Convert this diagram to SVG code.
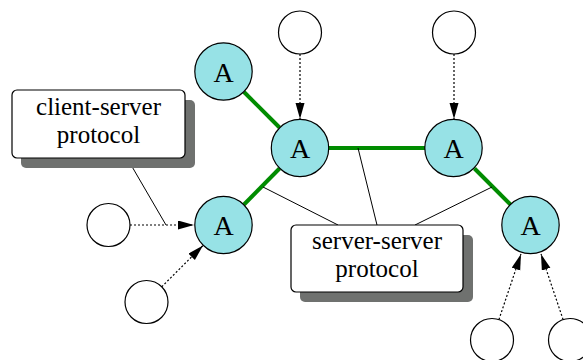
<svg xmlns="http://www.w3.org/2000/svg" width="583" height="360" viewBox="0 0 583 360">
<style>
.a{fill:#97e2e6;stroke:#000;stroke-width:1.2}
.w{fill:#fff;stroke:#000;stroke-width:1.2}
.box{fill:#fff;stroke:#000;stroke-width:1.2}
.sh{fill:#6f716f}
.t{font-size:25px;text-anchor:middle;fill:#000}
.at{font-size:28px;text-anchor:middle;fill:#000}
.g{stroke:#008c00;stroke-width:4;fill:none}
.th{stroke:#000;stroke-width:1;fill:none}
.d{stroke:#000;stroke-width:1.2;stroke-dasharray:2,2;fill:none;marker-end:url(#ah)}
</style>
<defs>
<marker id="ah" markerUnits="userSpaceOnUse" markerWidth="17" markerHeight="10" refX="16" refY="4.5" orient="auto">
<path d="M0,0 L16,4.5 L0,9 z" fill="#000"/>
</marker>
</defs>
<g id="connectors">
<line class="g" x1="244" y1="92" x2="279.5" y2="127.5"/>
<line class="g" x1="329" y1="148" x2="425" y2="148"/>
<line class="g" x1="279.5" y1="168.5" x2="244" y2="204.5"/>
<line class="g" x1="474.5" y1="168.5" x2="510.5" y2="204.5"/>
<line class="th" x1="263" y1="187" x2="338" y2="225"/>
<line class="th" x1="358" y1="148" x2="377" y2="225"/>
<line class="th" x1="492" y1="187" x2="415" y2="225"/>
<line class="th" x1="127" y1="158" x2="166" y2="225"/>
<line class="d" x1="300" y1="54" x2="300" y2="119"/>
<line class="d" x1="454" y1="54" x2="454" y2="119"/>
<line class="d" x1="130" y1="225" x2="194" y2="225"/>
<line class="d" x1="161.7" y1="286.8" x2="203" y2="245.5"/>
<line class="d" x1="498.9" y1="319.6" x2="521" y2="254"/>
<line class="d" x1="563.1" y1="319.6" x2="541" y2="254"/>
</g>
<g font-family="'Liberation Serif', 'Times New Roman', serif">
<g id="box-client-server">
<rect class="sh" x="21" y="100" width="174" height="68" rx="5"/>
<rect class="box" x="12" y="90" width="173" height="68" rx="5"/>
<text class="t" x="98.5" y="115">client-server</text>
<text class="t" x="98.5" y="143">protocol</text>
</g>
<g id="box-server-server">
<rect class="sh" x="300" y="235" width="173" height="67" rx="5"/>
<rect class="box" x="291" y="225" width="172" height="67" rx="5"/>
<text class="t" x="377" y="249">server-server</text>
<text class="t" x="377" y="277">protocol</text>
</g>
<g id="A1"><circle class="a" cx="223.5" cy="71.5" r="28.7"/><text class="at" x="223.5" y="81.5">A</text></g>
<g id="A2"><circle class="a" cx="300" cy="148" r="28.7"/><text class="at" x="300" y="158">A</text></g>
<g id="A3"><circle class="a" cx="453.5" cy="148" r="28.7"/><text class="at" x="453.5" y="158">A</text></g>
<g id="A4"><circle class="a" cx="223.5" cy="225" r="28.7"/><text class="at" x="223.5" y="235">A</text></g>
<g id="A5"><circle class="a" cx="530.5" cy="225" r="28.7"/><text class="at" x="530.5" y="235">A</text></g>
</g>
<g id="c-top1"><circle class="w" cx="300" cy="32.5" r="21.5"/></g>
<g id="c-top2"><circle class="w" cx="454" cy="32.5" r="21.5"/></g>
<g id="c-left1"><circle class="w" cx="108.5" cy="225" r="21.5"/></g>
<g id="c-left2"><circle class="w" cx="146.5" cy="302" r="21.5"/></g>
<g id="c-bottom1"><circle class="w" cx="492" cy="340" r="21.5"/></g>
<g id="c-bottom2"><circle class="w" cx="570" cy="340" r="21.5"/></g>
</svg>
